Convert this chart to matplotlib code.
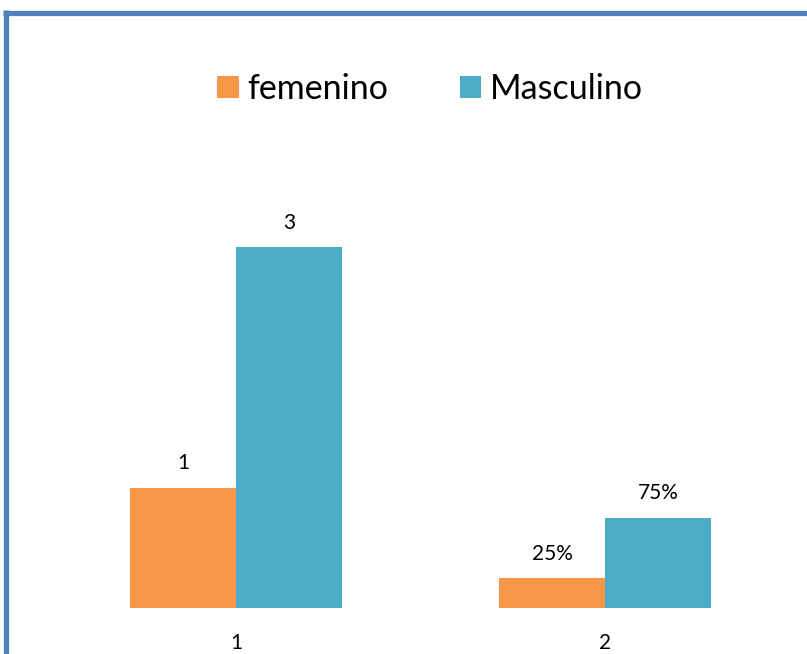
import matplotlib
matplotlib.use("Agg")
import matplotlib.pyplot as plt
from matplotlib.lines import Line2D
import numpy as np

categories = ["1", "2"]
femenino = [1, 0.25]
masculino = [3, 0.75]
fem_labels = ["1", "25%"]
masc_labels = ["3", "75%"]

orange = "#F79646"
teal = "#4BACC6"
border = "#4F81BD"

plt.rcParams['font.family'] = ['Lato', 'DejaVu Sans']

fig = plt.figure(figsize=(8.07, 6.54), dpi=100)
ax = fig.add_axes([51.5 / 807, 46 / 654, 738 / 807, 421.2 / 654])

x = np.arange(len(categories))
w = 0.2873
b1 = ax.bar(x - w / 2, femenino, w, color=orange, label="femenino")
b2 = ax.bar(x + w / 2, masculino, w, color=teal, label="Masculino")

for bars, labels in [(b1, fem_labels), (b2, masc_labels)]:
    for rect, lab in zip(bars, labels):
        ax.annotate(lab, (rect.get_x() + rect.get_width() / 2, rect.get_height()),
                    xytext=(0, 17.5), textcoords="offset points",
                    ha="center", va="center", fontsize=15)

ax.set_xlim(-0.5, 1.5)
ax.set_ylim(0, 3.5)
ax.set_xticks(x)
ax.set_xticklabels(categories, fontsize=15)
ax.tick_params(axis='x', length=0, pad=18)
ax.set_yticks([])
for s in ax.spines.values():
    s.set_visible(False)

fig.legend(loc="center", bbox_to_anchor=(430 / 807, 1 - 89 / 654), ncol=2,
           frameon=False, fontsize=24.5, handlelength=0.64, handleheight=0.64,
           handletextpad=0.25, columnspacing=2.1)

# outer frame (left and top edges)
fig.add_artist(Line2D([5.5 / 807, 5.5 / 807], [0, 1 - 10 / 654], color=border, lw=3.8,
                      transform=fig.transFigure, solid_capstyle='butt'))
fig.add_artist(Line2D([3 / 807, 1], [1 - 12.5 / 654, 1 - 12.5 / 654], color=border, lw=3.8,
                      transform=fig.transFigure, solid_capstyle='butt'))

fig.savefig("out.png", dpi=100)
